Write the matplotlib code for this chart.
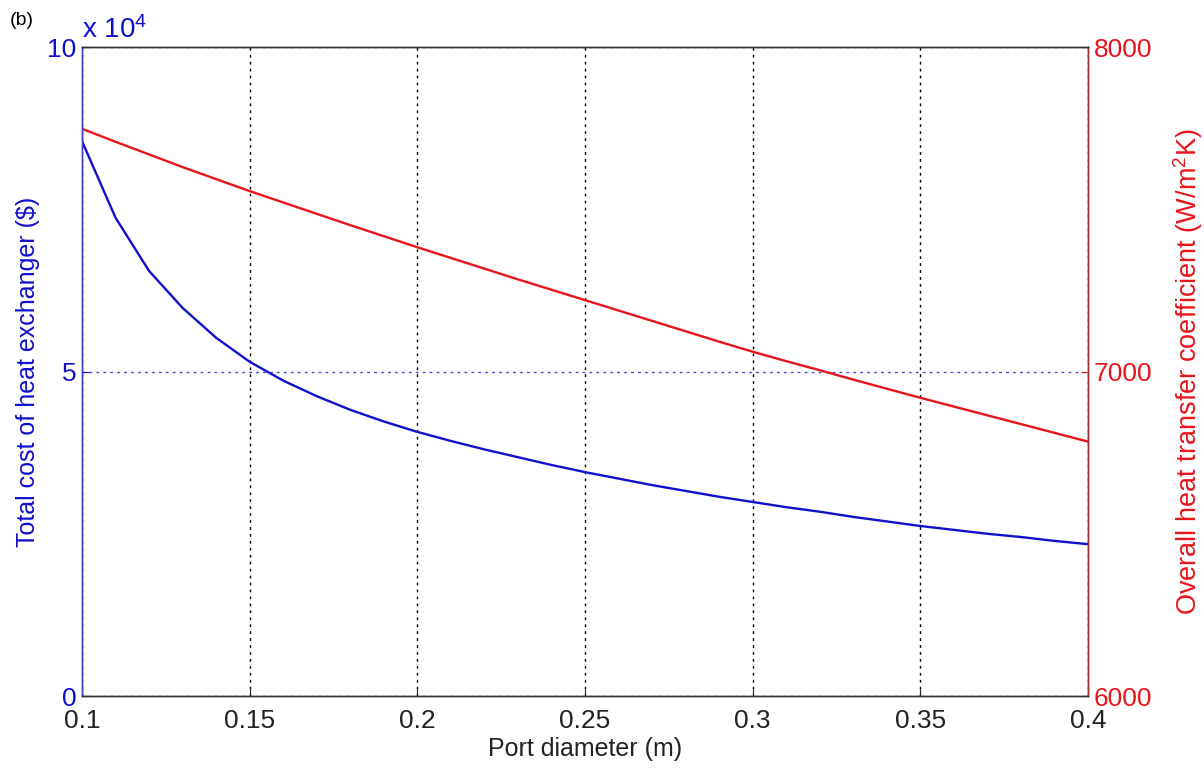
import matplotlib.pyplot as plt

plt.rcParams['font.family'] = ['Liberation Sans', 'DejaVu Sans']
plt.rcParams['mathtext.default'] = 'regular'

# port diameter (m)
diameter = [0.10, 0.11, 0.12, 0.13, 0.14, 0.15, 0.16, 0.17, 0.18, 0.19, 0.20,
            0.21, 0.22, 0.23, 0.24, 0.25, 0.26, 0.27, 0.28, 0.29, 0.30,
            0.31, 0.32, 0.33, 0.34, 0.35, 0.36, 0.37, 0.38, 0.39, 0.40]
# total cost, x 10^4 $
cost = [8.55, 7.37, 6.55, 5.98, 5.52, 5.15, 4.86, 4.62, 4.41, 4.23, 4.07,
        3.93, 3.80, 3.68, 3.56, 3.45, 3.35, 3.25, 3.16, 3.07, 2.99,
        2.91, 2.84, 2.76, 2.69, 2.62, 2.56, 2.50, 2.45, 2.39, 2.34]
# overall heat transfer coefficient (W/m2K)
u_coef = [7748, 7708, 7669, 7630, 7593, 7556, 7521, 7486, 7451, 7417, 7383,
          7350, 7317, 7284, 7252, 7220, 7188, 7156, 7124, 7092, 7061,
          7032, 7004, 6975, 6947, 6919, 6892, 6865, 6838, 6811, 6784]

x_ticks = [0.1, 0.15, 0.2, 0.25, 0.3, 0.35, 0.4]
x_labels = ['0.1', '0.15', '0.2', '0.25', '0.3', '0.35', '0.4']

blue = '#1010cc'
red = '#e8141c'

fig = plt.figure(figsize=(12.04, 7.72), dpi=100)
ax1 = fig.add_axes([0.0681, 0.0984, 0.8356, 0.8407])
ax2 = ax1.twinx()

ax1.plot(diameter, cost, color=blue, lw=1.7)
ax2.plot(diameter, u_coef, color=red, lw=1.7)

ax1.set_xlim(0.1, 0.4)
ax1.set_ylim(0, 10)
ax2.set_ylim(6000, 8000)
ax1.set_xticks(x_ticks)
ax1.set_xticklabels(x_labels)
ax1.set_yticks([0, 5, 10])
ax1.set_yticklabels(['0', '5', '10'])
ax2.set_yticks([6000, 7000, 8000])

# grid: black dotted verticals, blue dotted horizontals
ax1.xaxis.grid(True, color='black', linestyle=(0, (2, 3)), lw=1.0)
ax1.yaxis.grid(True, color='#4a4acc', linestyle=(0, (2, 3)), lw=1.0)
ax1.set_axisbelow(True)

ax1.tick_params(axis='x', direction='in', length=5, labelsize=19, colors='#222222', pad=9)
ax1.tick_params(axis='y', direction='in', length=5, labelsize=19, colors=blue, pad=4)
ax2.tick_params(axis='y', direction='in', length=5, labelsize=19, colors=red, pad=4)

for ax in (ax1, ax2):
    ax.spines['top'].set_color('#333333')
    ax.spines['bottom'].set_color('#333333')
    ax.spines['left'].set_color('#4040c0')
    ax.spines['right'].set_color('#a03030')
    for s in ax.spines.values():
        s.set_linewidth(1.0)

ax1.set_xlabel('Port diameter (m)', fontsize=18, color='#222222', labelpad=3)
ax1.set_ylabel('Total cost of heat exchanger ($)', fontsize=18, color=blue, labelpad=5)
ax2.set_ylabel('Overall heat transfer coefficient (W/m$^2$K)', fontsize=19.5, color=red, labelpad=14)

ax1.text(0.0, 1.005, 'x 10$^4$', transform=ax1.transAxes, fontsize=20,
         color=blue, ha='left', va='bottom')
fig.text(0.008, 0.985, '(b)', fontsize=14, color='black', ha='left', va='top')

fig.savefig('out.png', dpi=100, facecolor='white')
